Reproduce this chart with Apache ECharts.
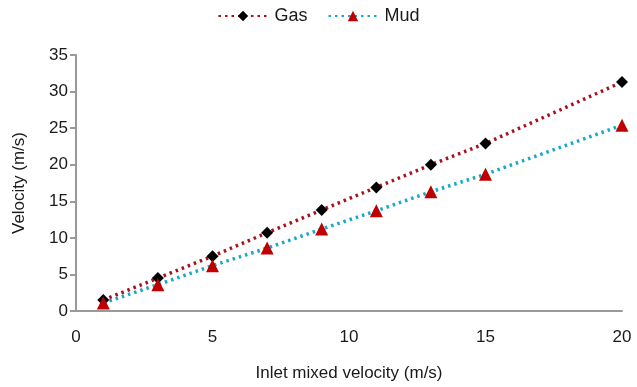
<!DOCTYPE html>
<html><head><meta charset="utf-8">
<script src="https://cdn.jsdelivr.net/npm/echarts@6/dist/echarts.min.js"></script>
<style>html,body{margin:0;padding:0;background:#fff}#c{width:637px;height:387px}</style>
</head><body><div id="c"></div>
<script>
const xValues = [1, 3, 5, 7, 9, 11, 13, 15, 20];
const gasValues = [1.5, 4.5, 7.5, 10.7, 13.8, 16.9, 20.0, 22.9, 31.3];
const mudValues = [1.1, 3.6, 6.2, 8.6, 11.2, 13.7, 16.3, 18.7, 25.4];
const seriesNames = ['Gas', 'Mud'];

const chart = echarts.init(document.getElementById('c'), null, {renderer: 'canvas'});
const font = 'Liberation Sans, Arial, sans-serif';
chart.setOption({
  animation: false,
  textStyle: {fontFamily: font},
  legend: {
    top: 2, left: 'center', itemWidth: 49, itemHeight: 13, itemGap: 20,
    textStyle: {fontSize: 18, color: '#1a1a1a', fontFamily: font, padding: [0, 0, 0, 2]},
    data: seriesNames
  },
  grid: {left: 76, right: 15, top: 55, bottom: 76},
  xAxis: {
    type: 'value', min: 0, max: 20, interval: 5,
    name: 'Inlet mixed velocity (m/s)', nameLocation: 'middle', nameGap: 54,
    nameTextStyle: {fontSize: 17, color: '#1a1a1a', fontFamily: font},
    axisLine: {show: true, lineStyle: {color: '#999', width: 2}},
    axisTick: {show: false},
    axisLabel: {fontSize: 17, color: '#1a1a1a', margin: 18, fontFamily: font},
    splitLine: {show: false}
  },
  yAxis: {
    type: 'value', min: 0, max: 35, interval: 5,
    name: 'Velocity (m/s)', nameLocation: 'middle', nameGap: 48, nameRotate: 90,
    nameTextStyle: {fontSize: 17, color: '#1a1a1a', fontFamily: font},
    axisLine: {show: true, lineStyle: {color: '#999', width: 2}},
    axisTick: {show: true, length: 6, lineStyle: {color: '#999', width: 2}},
    axisLabel: {fontSize: 17, color: '#1a1a1a', margin: 8, fontFamily: font},
    splitLine: {show: false}
  },
  series: [
    {
      name: seriesNames[0], type: 'line',
      data: xValues.map((x, i) => [x, gasValues[i]]),
      symbol: 'diamond', symbolSize: 12,
      itemStyle: {color: '#000'},
      lineStyle: {color: '#a8101e', width: 3.5, type: [2.5, 4]}
    },
    {
      name: seriesNames[1], type: 'line',
      data: xValues.map((x, i) => [x, mudValues[i]]),
      symbol: 'triangle', symbolSize: 13,
      itemStyle: {color: '#c00000'},
      lineStyle: {color: '#18a8cc', width: 3.5, type: [2.5, 4]}
    }
  ]
});
</script></body></html>
